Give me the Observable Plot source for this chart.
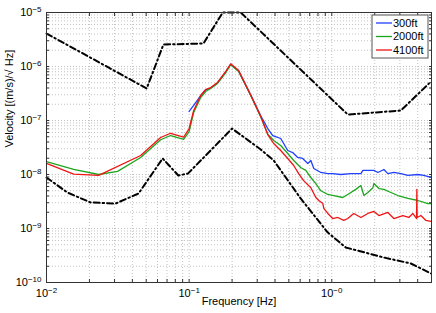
<!DOCTYPE html>
<html><head><meta charset="utf-8">
<script src="https://cdn.jsdelivr.net/npm/d3@7"></script>
<script src="https://cdn.jsdelivr.net/npm/@observablehq/plot@0.6"></script>
<style>
body{margin:0;background:#fff;font-family:"Liberation Sans",Arial,sans-serif}
#chart{position:relative;width:436px;height:313px}
</style>
</head><body><div id="chart"></div>
<script>
const seriesNames = ["300ft", "2000ft", "4100ft"];
const seriesColors = ["#2040ff", "#1ea61e", "#f01414"];

const freq300 = [0.1, 0.1076, 0.1205, 0.1306, 0.1416, 0.158, 0.18, 0.1955, 0.2224, 0.2703, 0.3177, 0.3556, 0.3855, 0.4385, 0.4911, 0.532, 0.577, 0.625, 0.679, 0.713, 0.748, 0.838, 0.938, 1.016, 1.156, 1.359, 1.599, 1.652, 1.974, 2.105, 2.318, 2.472, 2.723, 3.048, 3.413, 4.014, 4.424, 4.955];
const vel300 = [1.47e-7, 1.9e-7, 2.9e-7, 3.7e-7, 4.0e-7, 4.9e-7, 7.8e-7, 1.1e-6, 8.2e-7, 2.95e-7, 1.22e-7, 7.1e-8, 5.27e-8, 4.64e-8, 2.78e-8, 2.55e-8, 2.07e-8, 1.98e-8, 1.6e-8, 1.82e-8, 1.29e-8, 1.09e-8, 1.04e-8, 1.04e-8, 1.0e-8, 1.04e-8, 1.04e-8, 1.19e-8, 1.19e-8, 1.09e-8, 1.24e-8, 1.04e-8, 1.09e-8, 1.04e-8, 9.6e-9, 1.0e-8, 9.6e-9, 8.8e-9];

const freq2000 = [0.01, 0.0155, 0.0232, 0.0315, 0.0457, 0.0631, 0.0741, 0.0914, 0.1, 0.1076, 0.1205, 0.1306, 0.1416, 0.158, 0.18, 0.1955, 0.2224, 0.2703, 0.3177, 0.3556, 0.3917, 0.4385, 0.4911, 0.541, 0.605, 0.657, 0.713, 0.773, 0.838, 0.938, 1.033, 1.194, 1.294, 1.473, 1.599, 1.679, 1.791, 1.942, 1.974, 2.139, 2.318, 2.596, 2.904, 3.413, 4.014, 4.722, 5.0];
const vel2000 = [1.74e-8, 1.24e-8, 1.0e-8, 1.14e-8, 2.07e-8, 4.4e-8, 5.27e-8, 4.45e-8, 6.25e-8, 1.41e-7, 2.67e-7, 3.44e-7, 3.92e-7, 4.85e-7, 7.6e-7, 1.08e-6, 8.1e-7, 2.9e-7, 1.16e-7, 5.6e-8, 4.26e-8, 3.44e-8, 2.45e-8, 1.82e-8, 1.35e-8, 1.19e-8, 8.8e-9, 6.8e-9, 5.0e-9, 4.27e-9, 4.08e-9, 3.75e-9, 4.27e-9, 5.3e-9, 6.25e-9, 4.08e-9, 4.64e-9, 5.7e-9, 6.8e-9, 5.5e-9, 5.3e-9, 4.64e-9, 4.08e-9, 3.6e-9, 3.3e-9, 2.9e-9, 2.9e-9];

const freq4100 = [0.01, 0.0155, 0.0232, 0.0457, 0.0631, 0.0741, 0.0914, 0.1, 0.1076, 0.1205, 0.1306, 0.1416, 0.158, 0.18, 0.1955, 0.2224, 0.2703, 0.3177, 0.3556, 0.3917, 0.4385, 0.4911, 0.541, 0.586, 0.635, 0.713, 0.773, 0.811, 0.865, 0.879, 0.938, 1.016, 1.102, 1.213, 1.294, 1.426, 1.599, 1.791, 1.974, 2.139, 2.472, 2.723, 3.147, 3.468, 3.7, 3.93, 3.947, 3.965, 4.214, 4.57, 4.955];
const vel4100 = [1.6e-8, 1.02e-8, 9.6e-9, 2.25e-8, 4.84e-8, 5.8e-8, 4.9e-8, 7.1e-8, 1.53e-7, 2.9e-7, 3.75e-7, 4.08e-7, 5.06e-7, 8.0e-7, 1.12e-6, 8.4e-7, 2.95e-7, 1.19e-7, 5.5e-8, 3.75e-8, 2.78e-8, 1.98e-8, 1.47e-8, 1.04e-8, 7.7e-9, 5.7e-9, 3.75e-9, 3.3e-9, 2.9e-9, 2.35e-9, 1.9e-9, 1.53e-9, 1.6e-9, 1.41e-9, 1.53e-9, 1.9e-9, 1.6e-9, 1.9e-9, 2.07e-9, 1.74e-9, 1.98e-9, 1.53e-9, 1.74e-9, 1.6e-9, 1.9e-9, 1.53e-9, 5.3e-9, 1.6e-9, 1.74e-9, 1.41e-9, 1.35e-9];

const freqHigh = [0.01, 0.0504, 0.066, 0.126, 0.172, 0.23, 1.294, 3.048, 4.8];
const velHigh = [4.08e-6, 3.92e-7, 2.55e-6, 2.67e-6, 1.0e-5, 1.0e-5, 1.29e-7, 1.53e-7, 4.85e-7];

const freqLow = [0.01, 0.014, 0.0204, 0.0305, 0.0442, 0.0652, 0.084, 0.098, 0.2, 0.3177, 0.3917, 0.605, 0.938, 1.253, 2.318, 3.58, 4.955];
const velLow = [8.8e-9, 4.64e-9, 3.03e-9, 2.9e-9, 4.45e-9, 1.98e-8, 9.6e-9, 1.04e-8, 7.1e-8, 2.9e-8, 1.82e-8, 3.6e-9, 8.4e-10, 4.45e-10, 2.9e-10, 2.25e-10, 1.47e-10];

const xTicks = [0.01, 0.1, 1];
const yTicks = [1e-10, 1e-9, 1e-8, 1e-7, 1e-6, 1e-5];
const xLabel = "Frequency [Hz]";
const yLabel = "Velocity [(m/s)/\u221A Hz]";

const W = 436, H = 313;
const mL = 46, mR = 5, mT = 12, mB = 31;
const xDomain = [0.01, 5], yDomain = [1e-10, 1e-5];

const zip = (fs, vs, s) => fs.map((f, i) => ({f, v: vs[i], s}));
const curves = [
  zip(freq300, vel300, seriesNames[0]),
  zip(freq2000, vel2000, seriesNames[1]),
  zip(freq4100, vel4100, seriesNames[2])
];
const high = zip(freqHigh, velHigh, "high");
const low = zip(freqLow, velLow, "low");

const minor = (ticks, lim) => ticks.flatMap(t => d3.range(1, 10).map(k => k * t)).filter(v => v >= lim[0] * 0.999 && v <= lim[1] * 1.001);
const xMinor = minor(xTicks, xDomain);
const yMinor = minor(yTicks.slice(0, -1), yDomain);

const fmt = d => "10^\u2212" + Math.round(-Math.log10(d));
const gridStyle = {stroke: "#c2c2c2", strokeOpacity: 1, strokeDasharray: "1,2", strokeWidth: 1};
const dashStyle = {stroke: "#000", strokeWidth: 2, strokeDasharray: "6,3,1.5,3"};

const chart = Plot.plot({
  width: W, height: H,
  marginLeft: mL, marginRight: mR, marginTop: mT, marginBottom: mB,
  style: {fontFamily: "'Liberation Sans', Arial, sans-serif", fontSize: "11px", background: "#fff", color: "#000"},
  x: {type: "log", domain: xDomain},
  y: {type: "log", domain: yDomain},
  marks: [
    Plot.gridX(xMinor, gridStyle),
    Plot.gridY(yMinor, gridStyle),
    Plot.line(curves[0], {x: "f", y: "v", stroke: seriesColors[0], strokeWidth: 1.3}),
    Plot.line(curves[1], {x: "f", y: "v", stroke: seriesColors[1], strokeWidth: 1.3}),
    Plot.line(curves[2], {x: "f", y: "v", stroke: seriesColors[2], strokeWidth: 1.3}),
    Plot.line(high, {x: "f", y: "v", ...dashStyle}),
    Plot.line(low, {x: "f", y: "v", ...dashStyle}),
    Plot.frame({stroke: "#333", strokeWidth: 1}),
    Plot.axisX(xMinor, {anchor: "bottom", tickSize: -3, tickFormat: () => "", label: null, stroke: "#333"}),
    Plot.axisX(xMinor, {anchor: "top", tickSize: -3, tickFormat: () => "", label: null, stroke: "#333"}),
    Plot.axisY(yMinor, {anchor: "left", tickSize: -3, tickFormat: () => "", label: null, stroke: "#333"}),
    Plot.axisY(yMinor, {anchor: "right", tickSize: -3, tickFormat: () => "", label: null, stroke: "#333"}),
    Plot.axisX(xTicks, {anchor: "bottom", tickSize: 0, tickPadding: 7, tickFormat: fmt, label: null}),
    Plot.axisY(yTicks, {anchor: "left", tickSize: 0, tickPadding: 5, tickFormat: fmt, label: null}),
    Plot.text([xLabel], {text: d => d, frameAnchor: "bottom", dy: 22, fontSize: 11}),
    Plot.text([yLabel], {text: d => d, frameAnchor: "left", dx: -37, rotate: -90, fontSize: 11})
  ]
});

// superscript exponents
d3.select(chart).selectAll("text").each(function() {
  const t = d3.select(this);
  const s = t.text();
  if (!s.includes("^")) return;
  const [b, e] = s.split("^");
  t.text(null);
  t.append("tspan").text(b);
  t.append("tspan").attr("dy", "-0.55em").attr("font-size", "8px").text(e);
});

// legend
const lgW = 56, lgH = 43;
const lgX = W - mR - 3 - lgW, lgY = mT + 3;
const lg = d3.select(chart).append("g").attr("transform", `translate(${lgX},${lgY})`).attr("text-anchor", "start");
lg.append("rect").attr("width", lgW).attr("height", lgH).attr("fill", "#fff").attr("stroke", "#555").attr("stroke-width", 1);
seriesNames.forEach((name, i) => {
  const yy = 8 + i * 13.5;
  lg.append("line").attr("x1", 4).attr("x2", 20).attr("y1", yy).attr("y2", yy).attr("stroke", seriesColors[i]).attr("stroke-width", 1.3);
  lg.append("text").attr("x", 21).attr("y", yy).attr("dy", "0.35em").attr("font-size", 11).attr("text-anchor", "start").attr("fill", "#000").text(name);
});

document.getElementById("chart").appendChild(chart);
</script>
</body></html>
